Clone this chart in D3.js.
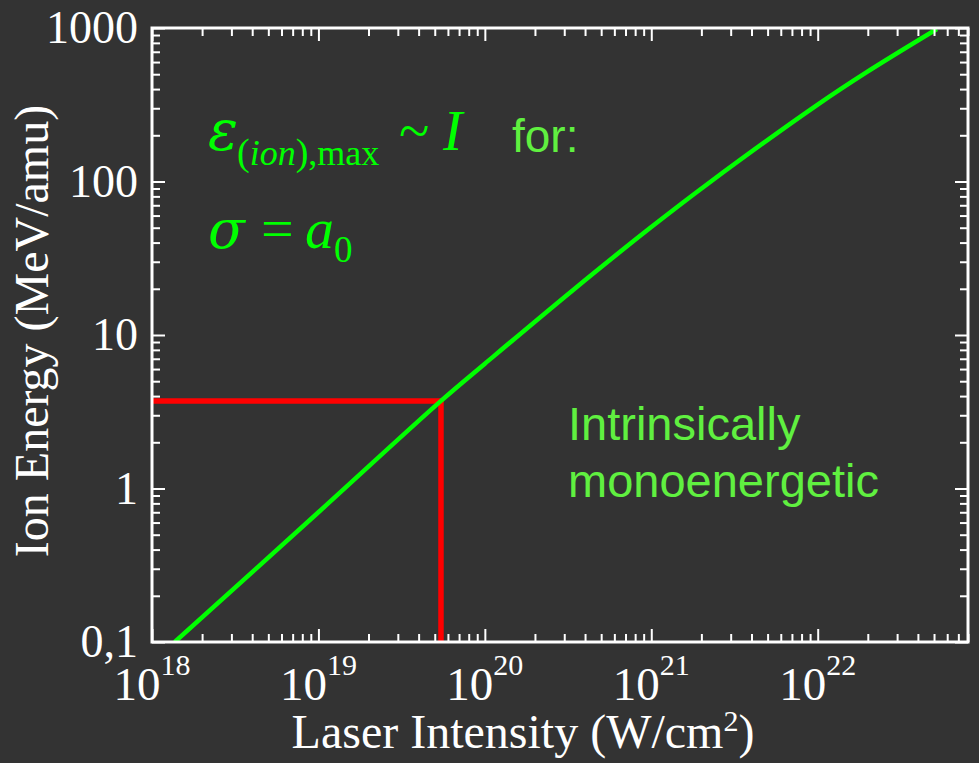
<!DOCTYPE html>
<html>
<head>
<meta charset="utf-8">
<script src="https://cdn.jsdelivr.net/npm/d3@7"></script>
<style>
  html, body { margin: 0; padding: 0; background: #333333; }
  svg { display: block; }
</style>
</head>
<body>
<svg id="chart"></svg>
<script>
// axis ranges and labels
const xDomain = [1e18, 8e22];
const yDomain = [0.1, 1000];
const xMajorValues = [1e18, 1e19, 1e20, 1e21, 1e22];
const xMajorExps = ["18", "19", "20", "21", "22"];
const yMajorValues = [0.1, 1, 10, 100, 1000];
const yMajorLabels = ["0,1", "1", "10", "100", "1000"];

// curve: laser intensity (W/cm2) -> max ion energy (MeV/amu)
const intensity = [1.37e18, 1e19, 5.45e19, 1e20, 3.38e20, 1e21, 2.24e21, 1e22, 1.97e22, 5.2e22];
const energy    = [0.1,     0.70, 3.72,    6.5,  19.6,    50.5, 98.6,    317,  516,     985];

// red marker (corner point)
const markIntensity = [5.45e19];
const markEnergy = [3.72];

const width = 979, height = 763;
const margin = { left: 152, right: 11, top: 28, bottom: 121 };

const svg = d3.select("#chart")
    .attr("width", width)
    .attr("height", height);

svg.append("rect").attr("width", width).attr("height", height).attr("fill", "#333333");

const x = d3.scaleLog().domain(xDomain).range([margin.left, width - margin.right]);
const y = d3.scaleLog().domain(yDomain).range([height - margin.bottom, margin.top]);

const serif = "'Liberation Serif', 'Times New Roman', serif";
const greek = "'DejaVu Serif', serif";
const sans = "'Liberation Sans', Arial, sans-serif";

const isMajor = d => Math.abs(Math.log10(d) - Math.round(Math.log10(d))) < 1e-6;

svg.append("clipPath").attr("id", "plot-clip")
  .append("rect")
    .attr("x", x.range()[0]).attr("y", y.range()[1])
    .attr("width", x.range()[1] - x.range()[0])
    .attr("height", y.range()[0] - y.range()[1]);

// red guide lines
const mark = markIntensity.map((v, i) => ({ i: v, e: markEnergy[i] }));
const redPath = d3.line();
svg.selectAll(".mark")
    .data(mark)
    .enter().append("path")
    .attr("class", "mark")
    .attr("d", d => redPath([[x.range()[0], y(d.e)], [x(d.i), y(d.e)], [x(d.i), y.range()[0]]]))
    .attr("fill", "none")
    .attr("stroke", "#ff0000")
    .attr("stroke-width", 5.5);

// green curve
const pts = intensity.map((v, i) => [v, energy[i]]);
const line = d3.line()
    .x(d => x(d[0]))
    .y(d => y(d[1]))
    .curve(d3.curveCatmullRom.alpha(0.5));

svg.append("path")
    .datum(pts)
    .attr("clip-path", "url(#plot-clip)")
    .attr("d", line)
    .attr("fill", "none")
    .attr("stroke", "#00ff00")
    .attr("stroke-width", 4.5);

// axes, ticks point inward on all four sides
function styleAxis(g, dir) {
    g.select(".domain").remove();
    g.selectAll(".tick text").remove();
    g.selectAll(".tick line")
        .attr("stroke", "#ffffff")
        .attr("stroke-width", 2)
        .attr(dir[0], d => (isMajor(d) ? 13 : 8) * dir[1]);
}

const xTicks = x.ticks();
const yTicks = y.ticks();

svg.append("g")
    .attr("transform", `translate(0,${y.range()[0]})`)
    .call(d3.axisBottom(x).tickValues(xTicks).tickFormat(""))
    .call(g => styleAxis(g, ["y2", -1]));

svg.append("g")
    .attr("transform", `translate(0,${y.range()[1]})`)
    .call(d3.axisTop(x).tickValues(xTicks).tickFormat(""))
    .call(g => styleAxis(g, ["y2", 1]));

svg.append("g")
    .attr("transform", `translate(${x.range()[0]},0)`)
    .call(d3.axisLeft(y).tickValues(yTicks).tickFormat(""))
    .call(g => styleAxis(g, ["x2", 1]));

svg.append("g")
    .attr("transform", `translate(${x.range()[1]},0)`)
    .call(d3.axisRight(y).tickValues(yTicks).tickFormat(""))
    .call(g => styleAxis(g, ["x2", -1]));

// frame
svg.append("rect")
    .attr("x", x.range()[0]).attr("y", y.range()[1])
    .attr("width", x.range()[1] - x.range()[0])
    .attr("height", y.range()[0] - y.range()[1])
    .attr("fill", "none")
    .attr("stroke", "#ffffff")
    .attr("stroke-width", 3);

// tick labels
const xl = svg.selectAll(".xlabel")
    .data(xMajorValues)
    .enter().append("text")
    .attr("class", "xlabel")
    .attr("x", d => x(d))
    .attr("y", 700)
    .attr("text-anchor", "middle")
    .attr("fill", "#ffffff")
    .style("font-family", serif)
    .style("font-size", "47px");
xl.append("tspan").text("10");
xl.append("tspan")
    .attr("dy", -25)
    .style("font-size", "30px")
    .text((d, i) => xMajorExps[i]);

svg.selectAll(".ylabel")
    .data(yMajorValues)
    .enter().append("text")
    .attr("class", "ylabel")
    .attr("x", 138)
    .attr("y", d => y(d))
    .attr("dy", "0.33em")
    .attr("text-anchor", "end")
    .attr("fill", "#ffffff")
    .style("font-family", serif)
    .style("font-size", "46px")
    .text((d, i) => yMajorLabels[i]);

// axis titles
const xt = svg.append("text")
    .attr("x", 523)
    .attr("y", 748)
    .attr("text-anchor", "middle")
    .attr("fill", "#ffffff")
    .style("font-family", serif)
    .style("font-size", "48px");
xt.append("tspan").text("Laser Intensity (W/cm");
xt.append("tspan").attr("dy", -17).style("font-size", "30px").text("2");
xt.append("tspan").attr("dy", 17).text(")");

svg.append("text")
    .attr("transform", "translate(48,331) rotate(-90)")
    .attr("text-anchor", "middle")
    .attr("fill", "#ffffff")
    .style("font-family", serif)
    .style("font-size", "48px")
    .text("Ion Energy (MeV/amu)");

// formula annotation
const f1 = svg.append("text")
    .attr("x", 208)
    .attr("y", 150)
    .attr("fill", "#00ff00")
    .style("font-family", serif)
    .style("font-size", "58px");
f1.append("tspan").style("font-family", greek).style("font-style", "italic").style("font-size", "56px").text("ε");
f1.append("tspan").attr("x", 237).attr("dy", 15).style("font-size", "38px").text("(");
f1.append("tspan").style("font-size", "36px").style("font-style", "italic").text("ion");
f1.append("tspan").style("font-size", "38px").text(")");
f1.append("tspan").style("font-size", "36px").text(",max");
f1.append("tspan").attr("x", 399).attr("dy", -15).style("font-size", "56px").text("~");
f1.append("tspan").attr("x", 443).style("font-style", "italic").text("I");

svg.append("text")
    .attr("x", 512)
    .attr("y", 152)
    .attr("fill", "#60f040")
    .style("font-family", sans)
    .style("font-size", "46px")
    .text("for:");

const f2 = svg.append("text")
    .attr("x", 208)
    .attr("y", 248)
    .attr("fill", "#00ff00")
    .style("font-family", serif)
    .style("font-size", "58px");
f2.append("tspan").style("font-family", greek).style("font-style", "italic").style("font-size", "54px").text("σ");
f2.append("tspan").attr("x", 261).text("=");
f2.append("tspan").attr("x", 305).style("font-style", "italic").text("a");
f2.append("tspan").attr("dy", 14).style("font-size", "37px").text("0");

// region label
const note = svg.append("text")
    .attr("fill", "#60f040")
    .style("font-family", sans)
    .style("font-size", "47px");
note.append("tspan").attr("x", 568).attr("y", 440).text("Intrinsically");
note.append("tspan").attr("x", 568).attr("y", 497).text("monoenergetic");
</script>
</body>
</html>
